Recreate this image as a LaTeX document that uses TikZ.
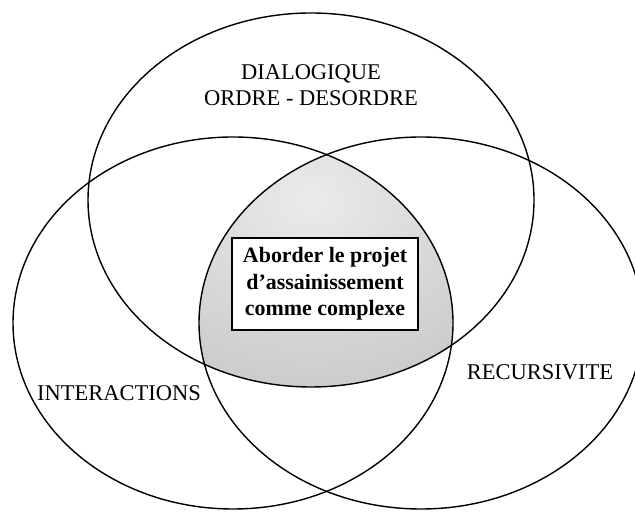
\documentclass[tikz,border=0pt]{standalone}
\usepackage{fontspec}
\setmainfont{Liberation Serif}
\usetikzlibrary{positioning}
\newcommand{\ry}{186}

\tikzset{
  ring/.style={line width=1pt,draw=black},
  label/.style={align=center,font=\fontsize{16}{18.5}\selectfont},
  core/.style={draw=black,line width=1.4pt,fill=white,align=center,
    minimum width=4.65cm,minimum height=2.3cm,inner sep=2pt,
    font=\bfseries\fontsize{15.6}{19}\selectfont}
}

\begin{document}
\begin{tikzpicture}[x=0.025cm,y=0.025cm]
\useasboundingbox (0,0) rectangle (635,511);
\clip (0,0) rectangle (635,511);
\coordinate (t) at (311,311);
\coordinate (l) at (233,188);
\coordinate (r) at (421,188);

% common part of the three sets
\begin{scope}
\clip (l) ellipse [x radius=220,y radius=\ry];
\clip (r) ellipse [x radius=222,y radius=\ry];
\shade[inner color=black!8,outer color=black!20] (t) ellipse [x radius=223,y radius=187];
\end{scope}

\draw[ring] (t) ellipse [x radius=223,y radius=187];
\draw[ring] (l) ellipse [x radius=220,y radius=\ry];
\draw[ring] (r) ellipse [x radius=222,y radius=\ry];

\node[label] (dial) at (311,426) {DIALOGIQUE\\ORDRE - DESORDRE};
\node[label] (inter) at (119,118) {INTERACTIONS};
\node[label] (recur) at (540,139) {RECURSIVITE};
\node[core] (projet) at (325,227) {Aborder le projet\\d'assainissement\\comme complexe};
\end{tikzpicture}
\end{document}
